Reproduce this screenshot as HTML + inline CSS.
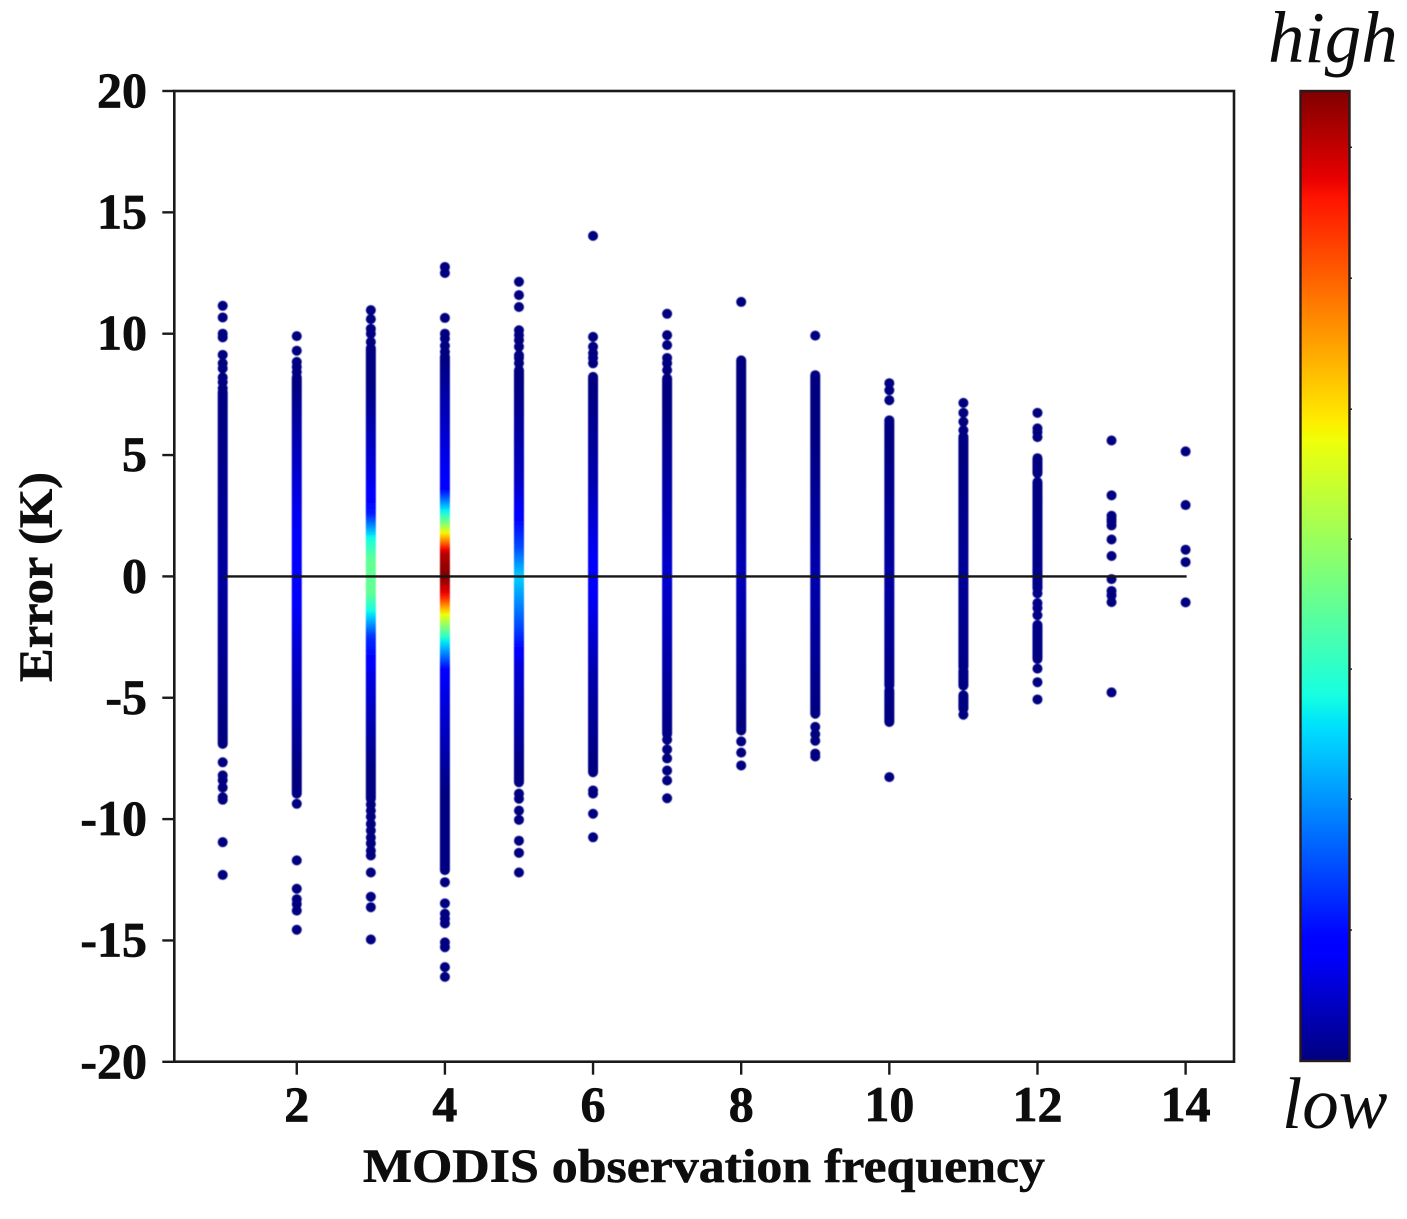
<!DOCTYPE html>
<html lang="en">
<head>
<meta charset="utf-8">
<title>Error vs MODIS observation frequency</title>
<style>
  html, body { margin: 0; padding: 0; background: #fff; }
  svg { display: block; }
  text { font-family: "Liberation Serif", serif; fill: #0a0a0a; }
  .tick { font-size: 50px; font-weight: bold; stroke: #0a0a0a; stroke-width: 0.7px; }
  .title { font-size: 48px; font-weight: bold; stroke: #0a0a0a; stroke-width: 0.6px; }
  .cb { font-size: 73px; font-style: italic; }
</style>
</head>
<body>
<svg id="chart" xmlns="http://www.w3.org/2000/svg" width="1407" height="1219" viewBox="0 0 1407 1219">
  <defs id="defs">
    <filter id="soft" x="-20%" y="-5%" width="140%" height="110%"><feGaussianBlur stdDeviation="0.6"/></filter>
    <filter id="softText" x="-5%" y="-5%" width="110%" height="110%"><feGaussianBlur stdDeviation="0.35"/></filter>
  </defs>
  <g id="marks" filter="url(#soft)"></g>
  <g id="axes"></g>
  <g id="labels" filter="url(#softText)"></g>
  <g id="colorbar"></g>
</svg>
<script>
const frequencies = [1,2,3,4,5,6,7,8,9,10,11,12,13,14];
const xTickValues = [2,4,6,8,10,12,14];
const yTickValues = [20,15,10,5,0,-5,-10,-15,-20];
const colorbarTicks = [0.135,0.27,0.404,0.538,0.672,0.807,0.942];

/* separate points seen outside the solid part of each column (K) */
const isolatedErrors = [
  [11.15,10.67,10.0,9.85,9.13,8.78,8.57,8.2,8.0,7.75,-7.66,-8.2,-8.4,-8.7,-9.1,-9.2,-10.95,-12.3],
  [9.9,9.3,8.84,8.63,8.42,-9.37,-11.7,-12.87,-13.3,-13.5,-13.77,-14.56],
  [10.97,10.6,10.2,10.0,9.66,-9.4,-9.65,-9.9,-10.2,-10.47,-10.76,-11.0,-11.3,-11.5,-12.2,-13.2,-13.63,-14.96],
  [12.75,12.5,10.65,10.0,9.8,9.5,9.25,-12.6,-13.47,-13.9,-14.1,-14.3,-15.08,-15.28,-16.1,-16.5],
  [12.14,11.59,11.1,10.14,9.94,9.73,9.46,9.11,9.0,8.78,-8.95,-9.16,-9.65,-10.03,-10.89,-11.39,-12.2],
  [14.03,9.87,9.46,9.2,9.0,8.78,-8.82,-8.95,-9.78,-10.75],
  [10.82,9.94,9.53,9.0,8.78,8.5,-6.73,-7.13,-7.5,-8.0,-8.41,-9.14],
  [11.31,-6.8,-7.26,-7.79],
  [9.92,-6.2,-6.5,-6.77,-7.3,-7.42],
  [7.96,7.67,7.26,-8.27],
  [7.15,6.74,6.37,6.02,-5.7],
  [6.74,6.1,5.95,5.74,-0.7,-1.1,-1.3,-1.6,-3.8,-4.36,-5.07],
  [5.6,3.34,2.5,2.37,2.25,2.1,1.52,0.84,-0.11,-0.6,-0.78,-1.06,-4.78],
  [5.15,2.94,1.1,0.59,-1.07]
];

/* solid runs of overlapping points: [top error, bottom error] */
const solidRuns = [
  [[7.6,-6.9]],
  [[8.2,-8.95]],
  [[9.4,-9.16]],
  [[9.05,-12.1]],
  [[8.5,-8.48]],
  [[8.22,-8.07]],
  [[8.16,-6.49]],
  [[8.9,-6.35]],
  [[8.29,-5.66]],
  [[6.43,-4.5],[-4.7,-6.0]],
  [[5.75,-3.74],[-3.88,-4.5],[-4.9,-5.45]],
  [[4.87,4.25],[3.89,3.13],[3.13,-0.5],[-2.0,-3.4]],
  [],
  []
];

/* relative point density (0 low .. 1 high) */
const densityErrors = [
  [-7,-2,0,2,8],
  [-8,-3,0,3,8],
  [-8,-4,-2.5,-1.5,-0.7,0,0.7,1.6,2.6,4,8],
  [-9,-3.9,-2.75,-2.1,-1.5,-0.8,0,1,1.6,2.2,2.75,3.6,9],
  [-8,-3.6,-2,0,1.2,2.6,4,8],
  [-8,-4,0,4,8],
  [-7,0,7],
  [-6,0,6],
  [-6,0,6],
  [-6,0,6],
  [-5,0,5],
  [-5,0,5],
  [-5,0,5],
  [-5,0,5]
];
const densityValues = [
  [0,0.02,0.03,0.02,0],
  [0,0.07,0.13,0.09,0],
  [0,0.09,0.17,0.36,0.47,0.47,0.47,0.37,0.15,0.09,0],
  [0,0.11,0.34,0.5,0.66,0.89,1,0.95,0.72,0.5,0.35,0.12,0],
  [0,0.08,0.2,0.33,0.2,0.11,0.06,0],
  [0,0.04,0.12,0.04,0],
  [0,0.07,0],
  [0,0.05,0],
  [0,0.04,0],
  [0,0.03,0],
  [0,0.02,0],
  [0,0.01,0],
  [0,0,0],
  [0,0,0]
];

const NS = 'http://www.w3.org/2000/svg';
const plot = { left: 174.3, right: 1234, top: 91, bottom: 1061.7 };
const xScale = v => 222.7 + (v - 1) * 74.07;
const yScale = v => 576.4 - v * 24.27;

function ramp(stops, t) {
  for (let i = 1; i < stops.length; i++) {
    if (t <= stops[i][0]) {
      const a = stops[i - 1], b = stops[i];
      return a[1] + (b[1] - a[1]) * (t - a[0]) / (b[0] - a[0]);
    }
  }
  return stops[stops.length - 1][1];
}
function jet(t) {
  const r = ramp([[0,0],[0.35,0],[0.66,1],[0.89,1],[1,0.5]], t);
  const g = ramp([[0,0],[0.125,0],[0.375,1],[0.64,1],[0.91,0],[1,0]], t);
  const b = ramp([[0,0.5],[0.11,1],[0.34,1],[0.65,0],[1,0]], t);
  return 'rgb(' + Math.round(r * 255) + ',' + Math.round(g * 255) + ',' + Math.round(b * 255) + ')';
}
function make(tag, attrs, parent) {
  const el = document.createElementNS(NS, tag);
  for (const k in attrs) el.setAttribute(k, attrs[k]);
  parent.appendChild(el);
  return el;
}
function densityAt(i, e) {
  const es = densityErrors[i], vs = densityValues[i];
  const pairs = es.map((x, j) => [x, vs[j]]);
  return ramp(pairs, e);
}

const defs = document.getElementById('defs');
const marks = document.getElementById('marks');
const axes = document.getElementById('axes');
const labels = document.getElementById('labels');
const colorbar = document.getElementById('colorbar');

/* columns */
frequencies.forEach((f, i) => {
  const es = densityErrors[i];
  const top = es[es.length - 1], bottom = es[0];
  const grad = make('linearGradient', { id: 'col' + i, gradientUnits: 'userSpaceOnUse', x1: 0, x2: 0, y1: yScale(top), y2: yScale(bottom) }, defs);
  const steps = 80;
  for (let s = 0; s <= steps; s++) {
    const e = top + (bottom - top) * s / steps;
    make('stop', { offset: s / steps, 'stop-color': jet(densityAt(i, e)) }, grad);
  }
  const g = make('g', {}, marks);
  
  
  const cx = xScale(f);
  solidRuns[i].forEach(run => {
    const r = make('rect', { x: cx - 5, y: yScale(run[0]) - 5, width: 10, height: yScale(run[1]) - yScale(run[0]) + 10, rx: 5, ry: 5, fill: 'url(#col' + i + ')' }, g);
    
    
  });
  isolatedErrors[i].forEach(e => {
    const c = make('circle', { cx: cx, cy: yScale(e), r: 5, fill: 'url(#col' + i + ')' }, g);
    
    
  });
});

/* zero reference line */
const zero = make('line', { x1: xScale(frequencies[0]), x2: xScale(frequencies[frequencies.length - 1]) + 1, y1: yScale(0), y2: yScale(0), stroke: '#151515', 'stroke-width': 2.4 }, axes);



/* frame */
const frame = make('rect', { x: plot.left, y: plot.top, width: plot.right - plot.left, height: plot.bottom - plot.top, fill: 'none', stroke: '#1a1a1a', 'stroke-width': 2.6 }, axes);



/* y ticks */
yTickValues.forEach(v => {
  const y = yScale(v);
  const t = make('line', { x1: plot.left - 12, x2: plot.left, y1: y, y2: y, stroke: '#1a1a1a', 'stroke-width': 2.4 }, axes);
  
  
  const l = make('text', { x: 147, y: y + 16, 'text-anchor': 'end', class: 'tick' }, labels);
  
  
  l.textContent = v;
});

/* x ticks */
xTickValues.forEach(v => {
  const x = xScale(v);
  const t = make('line', { x1: x, x2: x, y1: plot.bottom, y2: plot.bottom + 13, stroke: '#1a1a1a', 'stroke-width': 2.4 }, axes);
  
  
  const l = make('text', { x: x, y: 1121, 'text-anchor': 'middle', class: 'tick' }, labels);
  
  
  l.textContent = v;
});

/* colorbar */
const cb = { x: 1300.5, y: 91, w: 49, h: 970 };
const cbGrad = make('linearGradient', { id: 'jetBar', x1: 0, x2: 0, y1: 1, y2: 0 }, defs);
for (let s = 0; s <= 100; s++) {
  make('stop', { offset: s / 100, 'stop-color': jet(s / 100) }, cbGrad);
}
const bar = make('rect', { x: cb.x, y: cb.y, width: cb.w, height: cb.h, fill: 'url(#jetBar)', stroke: '#2a1a1a', 'stroke-width': 2.4 }, colorbar);


colorbarTicks.forEach(t => {
  const y = cb.y + cb.h * (1 - t);
  const tk = make('line', { x1: cb.x + cb.w, x2: cb.x + cb.w + 2.5, y1: y, y2: y, stroke: '#222', 'stroke-width': 1.5 }, colorbar);
  
  
});
</script>
<script>
(function () {
  const host = document.getElementById('labels');
  const x = document.createElementNS('http://www.w3.org/2000/svg', 'text');
  x.setAttribute('x', '363');
  x.setAttribute('y', '1182');
  x.setAttribute('class', 'title');
  x.setAttribute('textLength', '682');
  x.setAttribute('lengthAdjust', 'spacingAndGlyphs');
  
  
  x.textContent = 'MODIS observation frequency';
  host.appendChild(x);
  const y = document.createElementNS('http://www.w3.org/2000/svg', 'text');
  y.setAttribute('transform', 'translate(52,682) rotate(-90)');
  y.setAttribute('class', 'title');
  y.setAttribute('textLength', '210');
  y.setAttribute('lengthAdjust', 'spacingAndGlyphs');
  
  
  y.textContent = 'Error (K)';
  host.appendChild(y);
  const high = document.createElementNS('http://www.w3.org/2000/svg', 'text');
  high.setAttribute('x', '1268');
  high.setAttribute('y', '62');
  high.setAttribute('class', 'cb');
  
  
  high.textContent = 'high';
  host.appendChild(high);
  const low = document.createElementNS('http://www.w3.org/2000/svg', 'text');
  low.setAttribute('x', '1282');
  low.setAttribute('y', '1128');
  low.setAttribute('class', 'cb');
  
  
  low.textContent = 'low';
  host.appendChild(low);
})();
</script>
</body>
</html>
